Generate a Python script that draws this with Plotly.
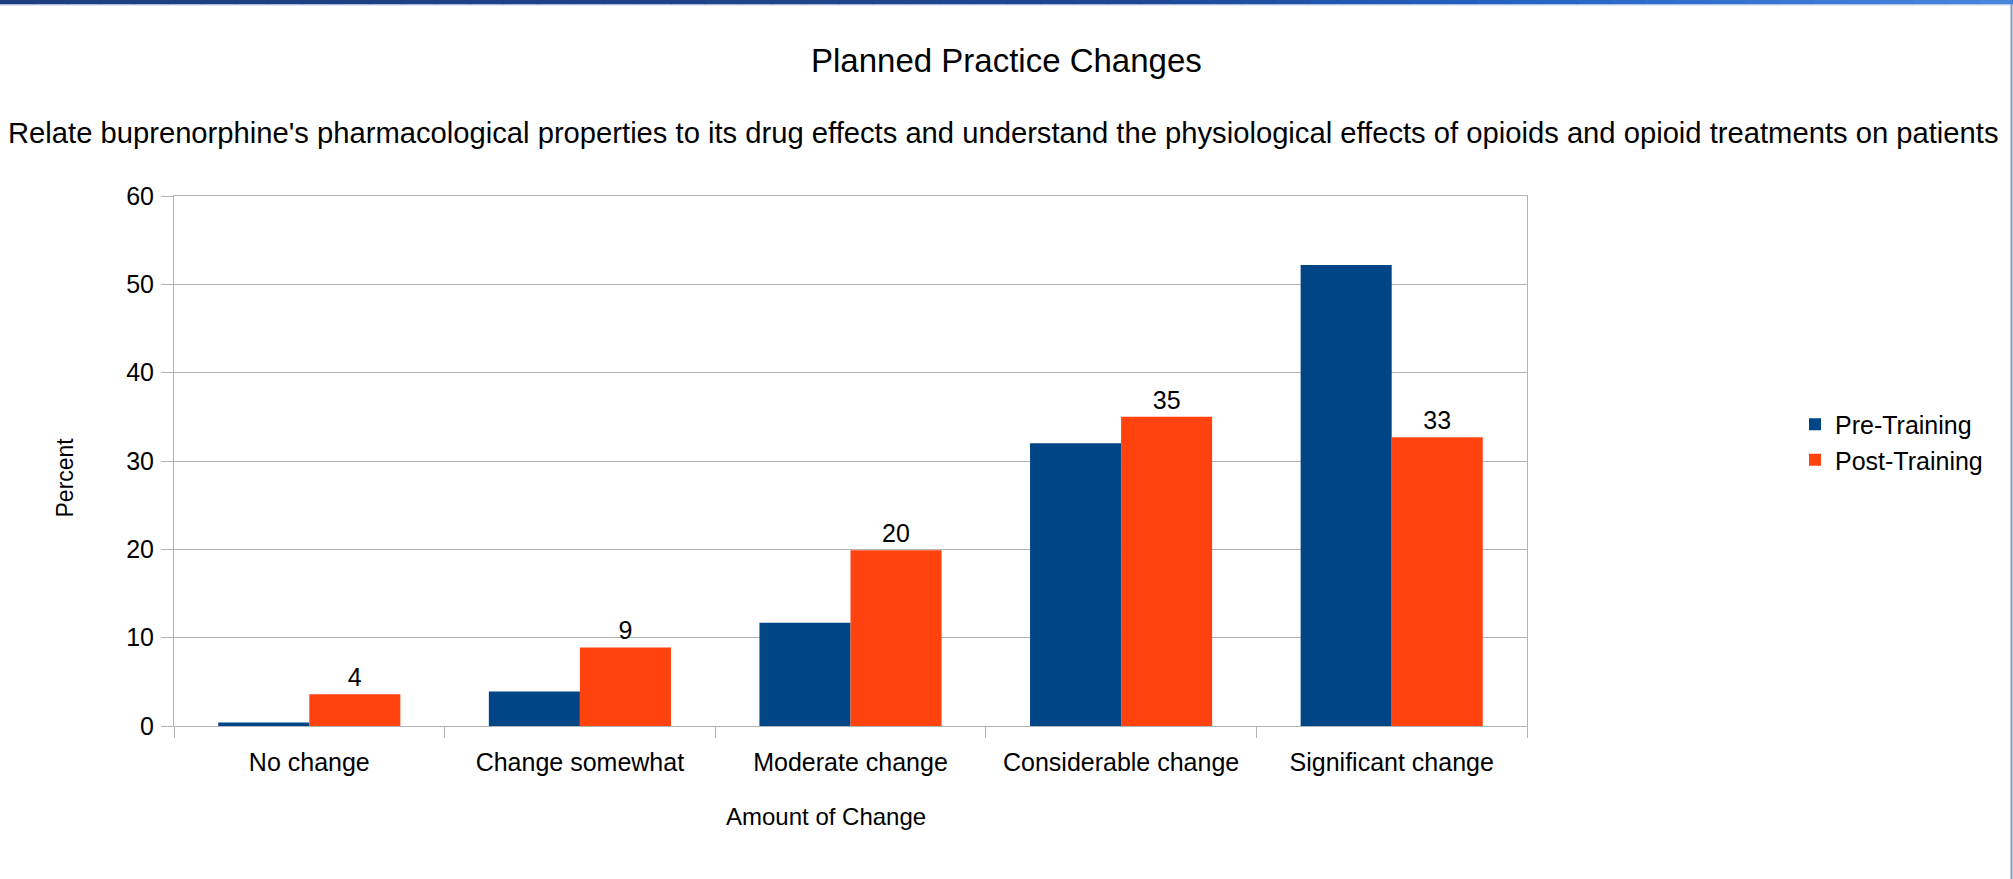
import plotly.graph_objects as go

# ---- data ----
categories = ["No change", "Change somewhat", "Moderate change", "Considerable change", "Significant change"]
pre_training = [0.4, 3.9, 11.7, 32.0, 52.2]
post_training = [3.6, 8.9, 19.9, 35.0, 32.7]
post_labels = [str(int(round(v))) for v in post_training]
y_ticks = [0, 10, 20, 30, 40, 50, 60]

title_text = "Planned Practice Changes"
subtitle_text = ("Relate buprenorphine's pharmacological properties to its drug effects and understand "
                 "the physiological effects of opioids and opioid treatments on patients")

# ---- layout geometry (pixels) ----
W, H = 2013, 879
L, R, T, B = 174, 1527, 196, 726
FONT = "Liberation Sans, Arial, sans-serif"
GRID = "#b3b3b3"


def px_x(px):
    return (px - L) / (R - L)


def px_y(py):
    return (B - py) / (B - T)


fig = go.Figure()
fig.add_trace(go.Bar(
    name="Pre-Training", x=categories, y=pre_training,
    marker=dict(color="#004586", line=dict(width=0)),
))
fig.add_trace(go.Bar(
    name="Post-Training", x=categories, y=post_training,
    marker=dict(color="#ff420e", line=dict(width=0)),
    text=post_labels, textposition="outside", cliponaxis=False,
    textfont=dict(size=25, color="#000000", family=FONT),
))

# decorative top gradient bar
stops = [(0.0, (29, 63, 127)), (0.55, (30, 70, 145)), (0.75, (36, 98, 196)), (1.0, (74, 134, 222))]


def grad(t):
    for (t0, c0), (t1, c1) in zip(stops[:-1], stops[1:]):
        if t0 <= t <= t1:
            f = (t - t0) / (t1 - t0)
            return "rgb(%d,%d,%d)" % tuple(round(a + (b - a) * f) for a, b in zip(c0, c1))
    return "rgb(%d,%d,%d)" % stops[-1][1]


shapes = []
N = 60
for i in range(N):
    x0 = W * i / N
    x1 = W * (i + 1) / N + 1
    shapes.append(dict(type="rect", xref="paper", yref="paper",
                       x0=px_x(x0), x1=px_x(x1), y0=px_y(4.5), y1=px_y(0),
                       fillcolor=grad((i + 0.5) / N), line=dict(width=0), layer="above"))
shapes.append(dict(type="line", xref="paper", yref="paper",
                   x0=px_x(0), x1=px_x(W), y0=px_y(5), y1=px_y(5),
                   line=dict(color="#c9d6ea", width=1)))
# right frame border
shapes.append(dict(type="line", xref="paper", yref="paper",
                   x0=px_x(2011.5), x1=px_x(2011.5), y0=px_y(H), y1=px_y(4),
                   line=dict(color="#7f9cc8", width=2)))

annotations = [
    dict(text=title_text, xref="paper", yref="paper", x=px_x(1006.5), y=px_y(60.5),
         xanchor="center", yanchor="middle", showarrow=False,
         font=dict(size=33, color="#000000", family=FONT)),
    dict(text=subtitle_text, xref="paper", yref="paper", x=px_x(1003.5), y=px_y(133),
         xanchor="center", yanchor="middle", showarrow=False,
         font=dict(size=29.2, color="#000000", family=FONT)),
    dict(text="Amount of Change", xref="paper", yref="paper", x=px_x(826), y=px_y(816),
         xanchor="center", yanchor="middle", showarrow=False,
         font=dict(size=24, color="#000000", family=FONT)),
    dict(text="Percent", xref="paper", yref="paper", x=px_x(64.5), y=px_y(478),
         xanchor="center", yanchor="middle", showarrow=False, textangle=-90,
         font=dict(size=23, color="#000000", family=FONT)),
]

fig.update_layout(
    width=W, height=H, autosize=False,
    margin=dict(l=L, r=W - R, t=T, b=H - B, pad=0),
    paper_bgcolor="#ffffff", plot_bgcolor="#ffffff",
    font=dict(family=FONT, size=25, color="#000000"),
    barmode="group", bargap=0.327, bargroupgap=0,
    showlegend=True,
    legend=dict(xref="container", yref="container", x=1795 / W, y=1 - 442 / H,
                xanchor="left", yanchor="middle", font=dict(size=25, family=FONT, color="#000000"),
                bgcolor="rgba(0,0,0,0)", borderwidth=0, itemclick=False),
    shapes=shapes,
    annotations=annotations,
)

fig.update_xaxes(
    type="category", showgrid=False, showline=True, linecolor=GRID, linewidth=1, mirror=True,
    ticks="outside", tickson="boundaries", ticklen=11, tickcolor=GRID, tickwidth=1,
    ticklabelstandoff=14,
    tickfont=dict(size=25, color="#000000", family=FONT), zeroline=False,
)
fig.update_yaxes(
    range=[0, 60], tickvals=y_ticks, showgrid=True, gridcolor=GRID, gridwidth=1,
    showline=True, linecolor=GRID, linewidth=1, mirror=True,
    ticks="outside", ticklen=12, tickcolor=GRID, tickwidth=1,
    ticklabelstandoff=2,
    tickfont=dict(size=25, color="#000000", family=FONT), zeroline=False,
)

fig.write_html(
    "out.html",
    config={"displayModeBar": False},
    post_script="document.body.style.margin='0';document.body.style.overflow='hidden';",
)
